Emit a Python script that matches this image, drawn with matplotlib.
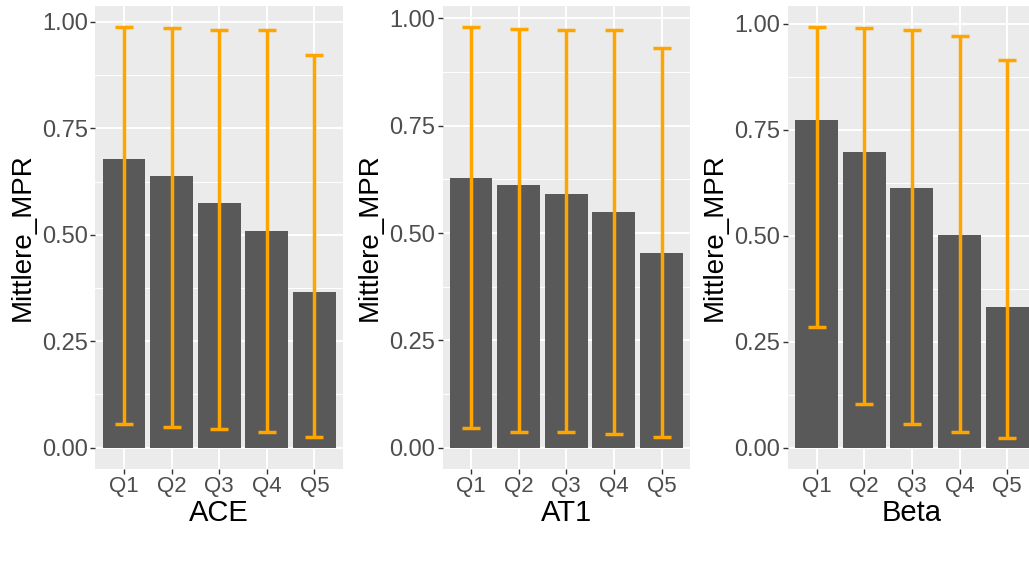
import numpy as np
import matplotlib.pyplot as plt

plt.rcParams['font.family'] = ['Liberation Sans', 'DejaVu Sans']

quintiles = ['Q1', 'Q2', 'Q3', 'Q4', 'Q5']

# mean MPR per quintile and the error bar ends, one set per factor
ace_mean = [0.679, 0.638, 0.575, 0.509, 0.365]
ace_low = [0.055, 0.048, 0.043, 0.038, 0.026]
ace_high = [0.987, 0.985, 0.981, 0.980, 0.923]

at1_mean = [0.629, 0.613, 0.592, 0.550, 0.453]
at1_low = [0.047, 0.037, 0.037, 0.033, 0.024]
at1_high = [0.979, 0.976, 0.974, 0.973, 0.932]

beta_mean = [0.773, 0.697, 0.612, 0.501, 0.331]
beta_low = [0.285, 0.102, 0.055, 0.037, 0.024]
beta_high = [0.991, 0.989, 0.986, 0.971, 0.914]

panels = [
    ('ACE', ace_mean, ace_low, ace_high),
    ('AT1', at1_mean, at1_low, at1_high),
    ('Beta', beta_mean, beta_low, beta_high),
]

W, H = 1029, 582
fig = plt.figure(figsize=(W / 100, H / 100), dpi=100)
fig.patch.set_facecolor('white')

lefts = [95.4, 442.5, 788.1]
ax_w = 247.6
ax_bottom = 582 - 468.7
ax_h = 462.3

x = np.arange(len(quintiles))

for left, (name, mean, low, high) in zip(lefts, panels):
    ax = fig.add_axes([left / W, ax_bottom / H, ax_w / W, ax_h / H])
    ax.set_facecolor('#EBEBEB')
    for s in ax.spines.values():
        s.set_visible(False)

    ax.bar(x, mean, width=0.9, color='#595959', zorder=2)
    mean = np.array(mean)
    yerr = np.vstack([mean - np.array(low), np.array(high) - mean])
    ax.errorbar(x, mean, yerr=yerr, fmt='none', ecolor='#FFA500',
                elinewidth=2.5, capsize=6.5, capthick=2.5, zorder=3)

    top = max(high)
    ax.set_ylim(-0.05 * top, 1.05 * top)
    ax.set_xlim(-0.6, len(quintiles) - 0.4)

    ax.set_yticks([0, 0.25, 0.5, 0.75, 1.0])
    ax.set_yticklabels(['0.00', '0.25', '0.50', '0.75', '1.00'])
    ax.set_yticks([0.125, 0.375, 0.625, 0.875], minor=True)
    ax.set_xticks(x)
    ax.set_xticklabels(quintiles)

    ax.grid(True, which='major', color='white', linewidth=1.4, zorder=0)
    ax.grid(True, which='minor', axis='y', color='white', linewidth=0.7, zorder=0)
    ax.set_axisbelow(True)

    ax.tick_params(axis='both', which='major', length=3.5, width=1,
                   color='#333333', labelcolor='#4D4D4D', labelsize=17, pad=2)
    ax.tick_params(axis='x', which='major', labelsize=16)
    ax.tick_params(axis='y', which='minor', length=0)

    ax.set_xlabel(name, fontsize=21, color='black', labelpad=1)
    ax.set_ylabel('Mittlere_MPR', fontsize=20, color='black')
    ax.yaxis.set_label_coords(-60 / ax_w, 0.5)

fig.savefig('out.png', dpi=100)
